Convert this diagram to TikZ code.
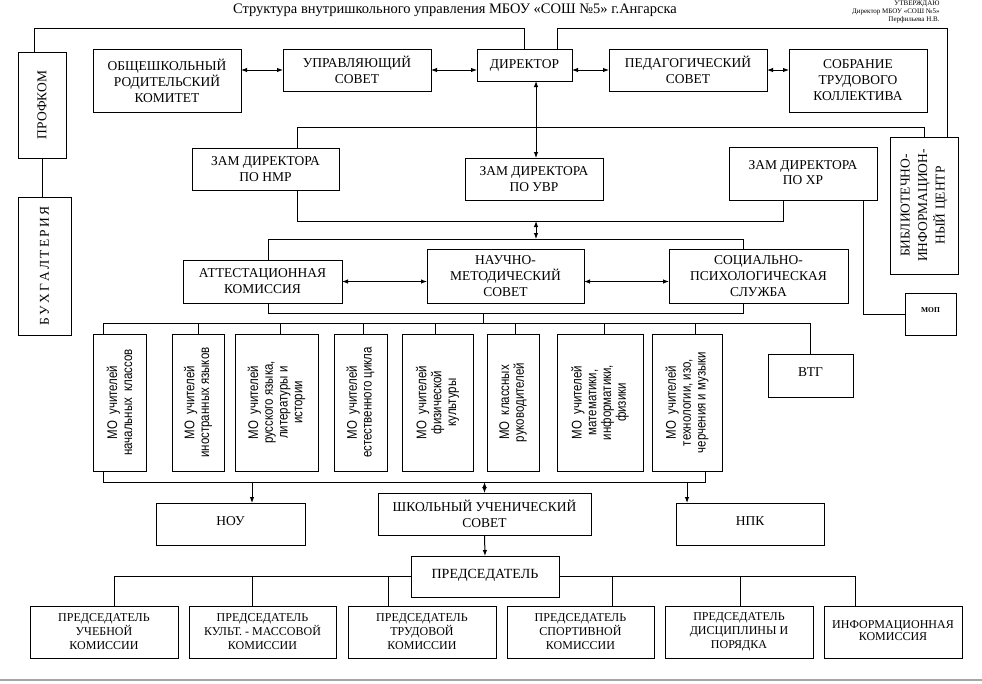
\documentclass[tikz,border=0pt]{standalone}
\usepackage{fontspec}
\setmainfont{Liberation Serif}
\newfontfamily\nsans[FakeStretch=0.82]{Liberation Sans}
\usetikzlibrary{arrows.meta}
\newcommand\bx[7][]{%
  \node[box,#1,minimum width={(#5-#3)*1pt},minimum height={(#6-#4)*1pt}] (#2) at ({(#3+#5)/2},{-(#4+#6)/2}) {#7};}
\begin{document}
\begin{tikzpicture}[x=1pt,y=1pt,line width=1pt,
  >={Latex[length=6pt,width=4.5pt]},
  box/.style={draw,line width=1pt,inner sep=0pt,outer sep=0pt,align=center,fill=white,
    font=\fontsize{13.5}{16}\selectfont},
  rot/.style={rotate=90,align=center,inner sep=0pt,font=\fontsize{13.5}{17.5}\selectfont},
  motext/.style={rotate=90,align=center,inner sep=0pt,font=\nsans\fontsize{14}{14.8}\selectfont},
  comm/.style={font=\fontsize{12}{14}\selectfont}]
\fill[white] (0,0) rectangle (982,-683);
\useasboundingbox (0,0) rectangle (982,-683);

% title and approval
\node[font=\fontsize{14.5}{17}\selectfont,inner sep=0pt] (title) at (455,-10) {Структура внутришкольного управления МБОУ «СОШ №5» г.Ангарска};
\node[anchor=north east,align=right,inner sep=0pt,font=\fontsize{7}{8}\selectfont] (appr) at (940,0) {УТВЕРЖДАЮ\\Директор МБОУ «СОШ №5»\\Перфильева Н.В.};

% top row
\bx{obsh}{93}{49}{241}{112}{ОБЩЕШКОЛЬНЫЙ\\РОДИТЕЛЬСКИЙ\\КОМИТЕТ}
\bx{upr}{283}{49}{431}{91}{УПРАВЛЯЮЩИЙ\\СОВЕТ}
\bx{dir}{477}{49}{572}{81}{ДИРЕКТОР}
\bx{ped}{609}{49}{767}{91}{ПЕДАГОГИЧЕСКИЙ\\СОВЕТ}
\bx{sobr}{789}{49}{927}{112}{СОБРАНИЕ\\ТРУДОВОГО\\КОЛЛЕКТИВА}

% side boxes
\bx{prof}{18}{52}{66}{158}{}
\node[rot] (proft) at (prof) {ПРОФКОМ};
\bx{buh}{18}{197}{71}{335}{}
\node[rot] (buht) at (buh) {Б\,У\,Х\,Г\,А\,Л\,Т\,Е\,Р\,И\,Я};
\bx{lib}{890}{137}{958}{274}{}
\node[rot] (libt) at (lib) {БИБЛИОТЕЧНО-\\ИНФОРМАЦИОН-\\НЫЙ ЦЕНТР};

% deputies
\bx{nmr}{192}{148}{339}{190}{ЗАМ ДИРЕКТОРА\\ПО НМР}
\bx{uvr}{465}{158}{603}{200}{ЗАМ ДИРЕКТОРА\\ПО УВР}
\bx{hr}{729}{147}{877}{200}{\raisebox{5pt}{\begin{tabular}{@{}c@{}}ЗАМ ДИРЕКТОРА\\[-1pt]ПО ХР\end{tabular}}}
\bx[font=\bfseries\fontsize{7.5}{9}\selectfont]{mop}{905}{293}{956}{335}{\raisebox{7pt}{МОП}}

% councils
\bx{att}{183}{260}{342}{303}{АТТЕСТАЦИОННАЯ\\КОМИССИЯ}
\bx{nau}{427}{249}{584}{303}{НАУЧНО-\\МЕТОДИЧЕСКИЙ\\СОВЕТ}
\bx{soc}{669}{249}{848}{303}{СОЦИАЛЬНО-\\ПСИХОЛОГИЧЕСКАЯ\\СЛУЖБА}

% MO boxes
\bx{mo1}{93}{334}{146}{471}{}
\bx{mo2}{172}{334}{224}{471}{}
\bx{mo3}{235}{334}{318}{471}{}
\bx{mo4}{334}{334}{387}{471}{}
\bx{mo5}{402}{334}{473}{471}{}
\bx{mo6}{487}{334}{539}{471}{}
\bx{mo7}{557}{334}{643}{471}{}
\bx{mo8}{652}{334}{722}{471}{}
\node[motext] (mo1t) at (mo1) {МО~ учителей\\начальных~ классов};
\node[motext] (mo2t) at (mo2) {МО~ учителей\\иностранных языков};
\node[motext] (mo3t) at (mo3) {МО~ учителей\\русского языка,\\литературы и\\истории};
\node[motext] (mo4t) at (mo4) {МО~ учителей\\естественного цикла};
\node[motext] (mo5t) at (mo5) {МО~ учителей\\физической\\культуры};
\node[motext] (mo6t) at (mo6) {МО~ классных\\руководителей};
\node[motext] (mo7t) at (mo7) {МО~ учителей\\математики,\\информатики,\\физики};
\node[motext] (mo8t) at (mo8) {МО~ учителей\\технологии, изо,\\черчения и музыки};
\bx{vtg}{768}{354}{853}{397}{\raisebox{7pt}{ВТГ}}

% student level
\bx{nou}{156}{503}{305}{545}{\raisebox{6pt}{НОУ}}
\bx{shus}{378}{493}{591}{535}{ШКОЛЬНЫЙ УЧЕНИЧЕСКИЙ\\СОВЕТ}
\bx{npk}{676}{503}{824}{545}{\raisebox{6pt}{НПК}}
\bx[font=\fontsize{14}{16}\selectfont]{pred}{411}{556}{559}{597}{\raisebox{6pt}{ПРЕДСЕДАТЕЛЬ}}

% commissions
\bx[comm]{b1}{30}{606}{178}{658}{ПРЕДСЕДАТЕЛЬ\\УЧЕБНОЙ\\КОМИССИИ}
\bx[comm]{b2}{189}{606}{336}{658}{ПРЕДСЕДАТЕЛЬ\\КУЛЬТ. - МАССОВОЙ\\КОМИССИИ}
\bx[comm]{b3}{348}{606}{496}{658}{ПРЕДСЕДАТЕЛЬ\\ТРУДОВОЙ\\КОМИССИИ}
\bx[comm]{b4}{507}{606}{654}{658}{ПРЕДСЕДАТЕЛЬ\\СПОРТИВНОЙ\\КОМИССИИ}
\bx[comm]{b5}{665}{606}{813}{658}{ПРЕДСЕДАТЕЛЬ\\ДИСЦИПЛИНЫ И\\ПОРЯДКА}
\bx[comm]{b6}{824}{606}{962}{658}{\raisebox{4pt}{\begin{tabular}{@{}c@{}}ИНФОРМАЦИОННАЯ\\[-2pt]КОМИССИЯ\end{tabular}}}

% junction coordinates
\coordinate (j1) at (536,-221);
\coordinate (j2) at (536,-239);
\coordinate (j3) at (483,-313);
\coordinate (j4) at (483,-323);

% connectors top
\draw ([xshift=-8]prof.north) |- ([yshift=21]dir.north) -- (dir.north);
\draw ([xshift=32.5]dir.north) |- ([xshift=23,yshift=109]lib.north) -- ([xshift=23]lib.north);
\draw (prof.south -| proft) -- (buh.north -| proft);
\draw[<->] (obsh.east |- upr) -- (upr.west);
\draw[<->] (upr.east) -- (upr.east -| dir.west);
\draw[<->] (dir.east |- ped) -- (ped.west);
\draw[<->] (ped.east) -- (ped.east -| sobr.west);

% deputies connectors
\draw ([xshift=31.5]nmr.north) |- ([yshift=10]lib.north) -- (lib.north);
\draw[<->] ([xshift=11.5]dir.south) -- ([xshift=2]uvr.north);
\draw ([xshift=31.5]nmr.south) |- ([xshift=-20,yshift=-21]hr.south) -- ([xshift=-20]hr.south);
\draw ([xshift=60]hr.south) |- (mop.west);
\draw[<->] (j1) -- (j2);

% councils connectors
\draw ([xshift=5.5]att.north) |- ([xshift=-15.5,yshift=10]soc.north) -- ([xshift=-15.5]soc.north);
\draw ([xshift=5.5]att.south) |- ([xshift=-15.5,yshift=-10]soc.south) -- ([xshift=-15.5]soc.south);
\draw[<->] (att.east) -- (att.east -| nau.west);
\draw[<->] (nau.east |- att.east) -- (soc.west |- att.east);
\draw (j3) -- (j4);

% MO connectors
\draw ([xshift=-16.5]mo1.north) |- ([yshift=31]vtg.north) -- (vtg.north);
\draw (mo2.north) -- ([yshift=11]mo2.north);
\draw ([xshift=3.5]mo3.north) -- ([xshift=3.5,yshift=11]mo3.north);
\draw ([xshift=2.5]mo4.north) -- ([xshift=2.5,yshift=11]mo4.north);
\draw ([xshift=-2.5]mo5.north) -- ([xshift=-2.5,yshift=11]mo5.north);
\draw ([xshift=2]mo6.north) -- ([xshift=2,yshift=11]mo6.north);
\draw ([xshift=4]mo7.north) -- ([xshift=4,yshift=11]mo7.north);
\draw ([xshift=8]mo8.north) -- ([xshift=8,yshift=11]mo8.north);
\draw ([xshift=-16.5]mo1.south) |- ([xshift=18,yshift=-11]mo8.south) -- ([xshift=18]mo8.south);

% student level connectors
\draw[->] ([xshift=21.5,yshift=21]nou.north) -- ([xshift=21.5]nou.north);
\draw[->] ([xshift=-63,yshift=21]npk.north) -- ([xshift=-63]npk.north);
\draw[<->] ([yshift=11]shus.north) -- (shus.north);
\draw[->] (shus.south) -- (pred.north);
\draw ([xshift=10]b1.north) |- (pred.west);
\draw (pred.east) -| ([xshift=-38]b6.north);
\draw ([xshift=-10.5]b2.north) -- ([xshift=-10.5]b2.north |- pred.west);
\draw ([xshift=-34]b3.north) -- ([xshift=-34]b3.north |- pred.west);
\draw ([xshift=31.5]b4.north) -- ([xshift=31.5]b4.north |- pred.west);
\draw ([xshift=1]b5.north) -- ([xshift=1]b5.north |- pred.west);

% page edge
\coordinate (pl) at (0,-680);
\coordinate (pr) at (982,-680);
\draw[line width=1.5pt,gray!70] (pl) -- (pr);
\end{tikzpicture}
\end{document}
